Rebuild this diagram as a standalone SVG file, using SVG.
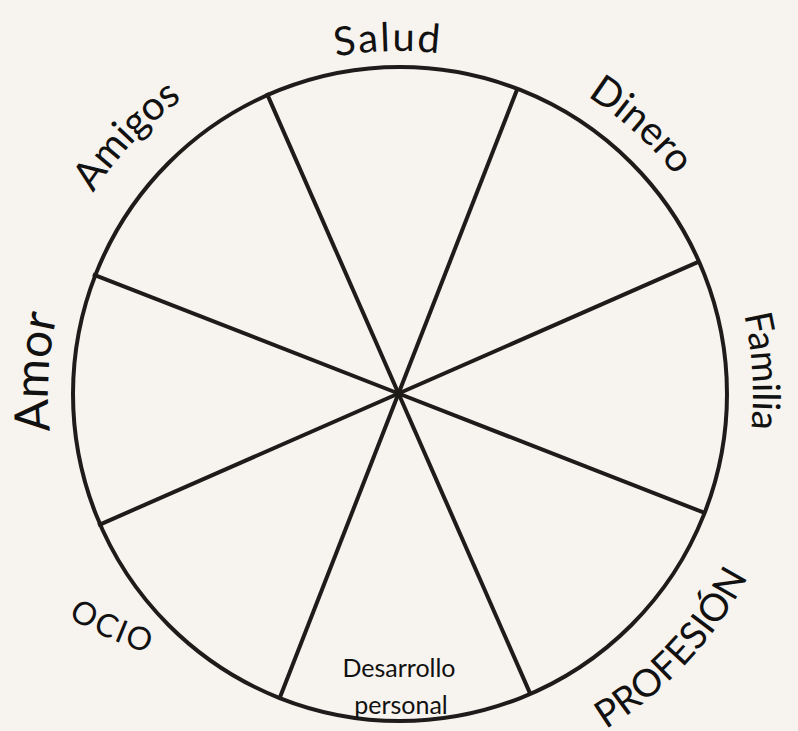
<svg xmlns="http://www.w3.org/2000/svg" xmlns:xlink="http://www.w3.org/1999/xlink" width="798" height="731" viewBox="0 0 798 731">
<style>
.ln{stroke:#1e1c1a;stroke-width:4;fill:none}
.lbl{font-family:Lato,"Open Sans","Liberation Sans",sans-serif;fill:#111;}
</style>
<defs>
<path id="pSalud" d="M96.7,231.9 A343,343 0 0 1 690.5,213.2"/>
<path id="pDinero" d="M290.2,59.2 A352,352 0 0 1 743.3,467.2"/>
<path id="pAmigos" d="M48.1,497.9 A366,366 0 0 1 484.4,38.1"/>
<path id="pAmor" d="M205.8,687.0 A351,351 0 0 1 241.9,80.1"/>
<path id="pFamilia" d="M556.4,76.9 A354,354 0 0 1 594.9,688.8"/>
<path id="pOcio" d="M-45.2,514.1 A380,380 0 0 0 301.9,668.6"/>
<path id="pProf" d="M310.4,777.9 A394,394 0 0 0 775.8,278.8"/>
</defs>
<rect width="798" height="731" fill="#f7f3ee"/>
<g id="wheel">
<circle class="ln" cx="400" cy="394" r="327"/>
</g>
<g id="connectors">
<line class="ln" x1="398.5" y1="393.5" x2="704.1" y2="512.7"/>
<line class="ln" x1="398.5" y1="393.5" x2="530.3" y2="693.9"/>
<line class="ln" x1="398.5" y1="393.5" x2="279.3" y2="699.1"/>
<line class="ln" x1="398.5" y1="393.5" x2="98.1" y2="525.3"/>
<line class="ln" x1="398.5" y1="393.5" x2="92.9" y2="274.3"/>
<line class="ln" x1="398.5" y1="393.5" x2="266.7" y2="93.1"/>
<line class="ln" x1="398.5" y1="393.5" x2="517.7" y2="87.9"/>
<line class="ln" x1="398.5" y1="393.5" x2="698.9" y2="261.7"/>
</g>
<g id="salud"><text class="lbl" font-size="40" letter-spacing="2"><textPath xlink:href="#pSalud" href="#pSalud" startOffset="50%" text-anchor="middle">Salud</textPath></text></g>
<g id="dinero"><text class="lbl" font-size="40"><textPath xlink:href="#pDinero" href="#pDinero" startOffset="50%" text-anchor="middle">Dinero</textPath></text></g>
<g id="amigos"><text class="lbl" font-size="40"><textPath xlink:href="#pAmigos" href="#pAmigos" startOffset="50%" text-anchor="middle">Amigos</textPath></text></g>
<g id="amor"><text class="lbl" font-size="48"><textPath xlink:href="#pAmor" href="#pAmor" startOffset="50%" text-anchor="middle">Amor</textPath></text></g>
<g id="familia"><text class="lbl" font-size="38"><textPath xlink:href="#pFamilia" href="#pFamilia" startOffset="50%" text-anchor="middle">Familia</textPath></text></g>
<g id="ocio"><text class="lbl" font-size="32" letter-spacing="2"><textPath xlink:href="#pOcio" href="#pOcio" startOffset="50%" text-anchor="middle">OCIO</textPath></text></g>
<g id="profesion"><text class="lbl" font-size="38"><textPath xlink:href="#pProf" href="#pProf" startOffset="50%" text-anchor="middle">PROFESIÓN</textPath></text></g>
<g id="desarrollo"><text class="lbl" font-size="25" text-anchor="middle"><tspan x="399" y="677">Desarrollo</tspan><tspan x="401" y="714">personal</tspan></text></g>
</svg>
